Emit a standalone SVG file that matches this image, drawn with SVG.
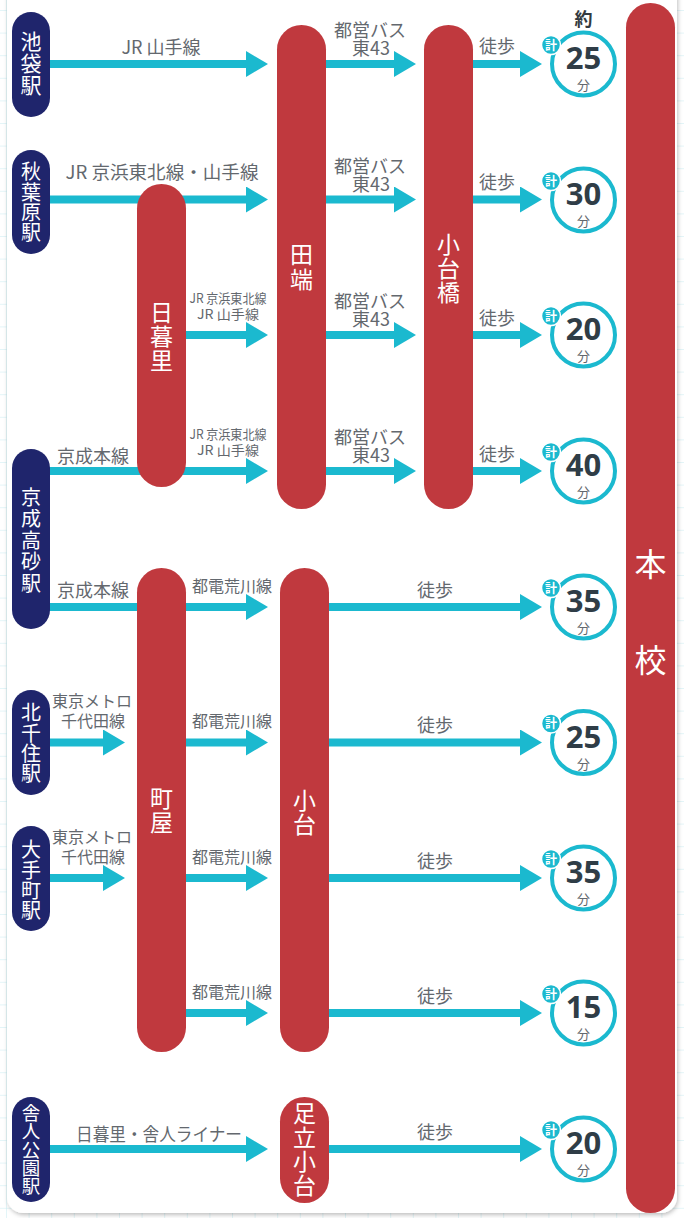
<svg xmlns="http://www.w3.org/2000/svg" width="684" height="1218" viewBox="0 0 684 1218">
<style>
.stn{fill:#1f256c}
.red{fill:#c0393e}
.st{fill:#ffffff;font-family:"Noto Sans CJK JP","Noto Sans",sans-serif;text-anchor:middle}
.v{writing-mode:vertical-rl}
.ln{stroke:#1bb9cf;stroke-width:8;fill:none}
.ah{stroke:#1bb9cf;stroke-width:8;fill:none;marker-end:url(#head)}
.lb{fill:#63686e;font-family:"Noto Sans CJK JP","Noto Sans",sans-serif;font-size:18px;text-anchor:middle}
.sm{fill:#63686e;font-family:"Noto Sans CJK JP","Noto Sans",sans-serif;font-size:13px;text-anchor:middle}
.md{fill:#63686e;font-family:"Noto Sans CJK JP","Noto Sans",sans-serif;font-size:16px;text-anchor:middle}
.ring{fill:#ffffff;stroke:#1bb9cf;stroke-width:4}
.badge{fill:#1bb9cf;stroke:#ffffff;stroke-width:1.5}
.bt{fill:#ffffff;font-family:"Noto Sans CJK JP",sans-serif;font-size:12px;font-weight:bold;text-anchor:middle}
.tt{text-anchor:middle}
.num{fill:#2f3d47;font-family:"Open Sans","Noto Sans",sans-serif;font-size:31px;font-weight:bold}
.fun{fill:#63686e;font-family:"Noto Sans CJK JP",sans-serif;font-size:13px;font-weight:normal}
</style>
<defs>
<pattern id="grid" x="6" y="10" width="22.6" height="22.6" patternUnits="userSpaceOnUse">
<path d="M0 0H22.6M0 0V22.6" stroke="#c8ebf1" stroke-width="1" fill="none"/>
</pattern>
<filter id="sh" x="-5%" y="-5%" width="110%" height="110%">
<feDropShadow dx="1" dy="2" stdDeviation="2" flood-color="#000" flood-opacity="0.25"/>
</filter>
<marker id="head" markerUnits="userSpaceOnUse" viewBox="0 -13 22 26" refX="1" refY="0" markerWidth="22" markerHeight="26" orient="auto">
<path d="M0 -13L22 0L0 13Z" fill="#1bb9cf"/>
</marker>
</defs>
<rect width="684" height="1218" fill="#ffffff"/>
<rect width="684" height="1218" fill="url(#grid)"/>
<rect x="7" y="-20" width="670" height="1233" rx="16" fill="#ffffff" filter="url(#sh)"/>

<g id="connectors">
<line class="ah" x1="40" y1="64" x2="247" y2="64"/>
<line class="ah" x1="320" y1="64" x2="395" y2="64"/>
<line class="ah" x1="465" y1="64" x2="521" y2="64"/>
<line class="ah" x1="40" y1="199.5" x2="247" y2="199.5"/>
<line class="ah" x1="320" y1="199.5" x2="395" y2="199.5"/>
<line class="ah" x1="465" y1="199.5" x2="521" y2="199.5"/>
<line class="ah" x1="180" y1="335" x2="247" y2="335"/>
<line class="ah" x1="320" y1="335" x2="395" y2="335"/>
<line class="ah" x1="465" y1="335" x2="521" y2="335"/>
<line class="ah" x1="40" y1="471" x2="247" y2="471"/>
<line class="ah" x1="320" y1="471" x2="395" y2="471"/>
<line class="ah" x1="465" y1="471" x2="521" y2="471"/>
<line class="ln" x1="40" y1="607" x2="150" y2="607"/>
<line class="ah" x1="180" y1="607" x2="247" y2="607"/>
<line class="ah" x1="320" y1="607" x2="521" y2="607"/>
<line class="ah" x1="40" y1="742.5" x2="104" y2="742.5"/>
<line class="ah" x1="180" y1="742.5" x2="247" y2="742.5"/>
<line class="ah" x1="320" y1="742.5" x2="521" y2="742.5"/>
<line class="ah" x1="40" y1="878" x2="104" y2="878"/>
<line class="ah" x1="180" y1="878" x2="247" y2="878"/>
<line class="ah" x1="320" y1="878" x2="521" y2="878"/>
<line class="ah" x1="180" y1="1013" x2="247" y2="1013"/>
<line class="ah" x1="320" y1="1013" x2="521" y2="1013"/>
<line class="ah" x1="40" y1="1149" x2="247" y2="1149"/>
<line class="ah" x1="320" y1="1149" x2="521" y2="1149"/>

<text class="lb" x="161" y="54">JR 山手線</text>
<text class="lb"><tspan x="370" y="37">都営バス</tspan><tspan x="371" y="55">東43</tspan></text>
<text class="lb" x="497" y="53">徒歩</text>
<text class="lb" x="162" y="179" textLength="193" lengthAdjust="spacingAndGlyphs">JR 京浜東北線・山手線</text>
<text class="lb"><tspan x="370" y="172.5">都営バス</tspan><tspan x="371" y="190.5">東43</tspan></text>
<text class="lb" x="497" y="189">徒歩</text>
<text class="sm"><tspan x="228" y="303" textLength="77" lengthAdjust="spacingAndGlyphs">JR 京浜東北線</tspan><tspan x="228" y="319" textLength="62" lengthAdjust="spacingAndGlyphs">JR 山手線</tspan></text>
<text class="lb"><tspan x="370" y="308">都営バス</tspan><tspan x="371" y="326">東43</tspan></text>
<text class="lb" x="497" y="325">徒歩</text>
<text class="lb" x="93" y="463">京成本線</text>
<text class="sm"><tspan x="228" y="439" textLength="77" lengthAdjust="spacingAndGlyphs">JR 京浜東北線</tspan><tspan x="228" y="455" textLength="62" lengthAdjust="spacingAndGlyphs">JR 山手線</tspan></text>
<text class="lb"><tspan x="370" y="444">都営バス</tspan><tspan x="371" y="462">東43</tspan></text>
<text class="lb" x="497" y="461">徒歩</text>
<text class="lb" x="93" y="597">京成本線</text>
<text class="md" x="232" y="592">都電荒川線</text>
<text class="lb" x="435" y="597">徒歩</text>
<text class="md"><tspan x="92" y="707">東京メトロ</tspan><tspan x="93" y="727">千代田線</tspan></text>
<text class="md" x="232" y="727">都電荒川線</text>
<text class="lb" x="435" y="732">徒歩</text>
<text class="md"><tspan x="92" y="843">東京メトロ</tspan><tspan x="93" y="863">千代田線</tspan></text>
<text class="md" x="232" y="863">都電荒川線</text>
<text class="lb" x="435" y="868">徒歩</text>
<text class="md" x="232" y="998">都電荒川線</text>
<text class="lb" x="435" y="1003">徒歩</text>
<text class="lb" x="159" y="1141" textLength="166" lengthAdjust="spacingAndGlyphs">日暮里・舎人ライナー</text>
<text class="lb" x="435" y="1139">徒歩</text>
</g>

<g id="n-ikebukuro"><rect class="stn" x="12" y="12" width="38" height="105" rx="19"/>
<text class="st v" x="31" y="64" font-size="21" letter-spacing="1">池袋駅</text></g>
<g id="n-akihabara"><rect class="stn" x="12" y="150" width="38" height="104" rx="19"/>
<text class="st v" x="31" y="202.5" font-size="20" letter-spacing="0.4">秋葉原駅</text></g>
<g id="n-keiseitakasago"><rect class="stn" x="12" y="449" width="38" height="180" rx="19"/>
<text class="st v" x="31" y="541" font-size="20" letter-spacing="1.4">京成高砂駅</text></g>
<g id="n-kitasenju"><rect class="stn" x="12" y="690" width="38" height="105" rx="19"/>
<text class="st v" x="31" y="743.5" font-size="20" letter-spacing="0.4">北千住駅</text></g>
<g id="n-otemachi"><rect class="stn" x="12" y="826" width="38" height="105" rx="19"/>
<text class="st v" x="31" y="880.5" font-size="20" letter-spacing="0.4">大手町駅</text></g>
<g id="n-toneri"><rect class="stn" x="12" y="1097" width="38" height="105" rx="19"/>
<text class="st v" x="31" y="1149.5" font-size="18.5" letter-spacing="-0.1">舎人公園駅</text></g>

<g id="n-nippori"><rect class="red" x="137" y="184" width="49" height="303" rx="24.5"/>
<text class="st v" x="161.5" y="336.5" font-size="23" letter-spacing="1">日暮里</text></g>
<g id="n-tabata"><rect class="red" x="277" y="25" width="49" height="484" rx="24.5"/>
<text class="st v" x="301.5" y="267.5" font-size="23" letter-spacing="1.5">田端</text></g>
<g id="n-odaibashi"><rect class="red" x="424" y="25" width="49" height="484" rx="24.5"/>
<text class="st v" x="448.5" y="269" font-size="23" letter-spacing="1">小台橋</text></g>
<g id="n-machiya"><rect class="red" x="137" y="568" width="49" height="484" rx="24.5"/>
<text class="st v" x="161.5" y="811" font-size="23" letter-spacing="1.5">町屋</text></g>
<g id="n-odai"><rect class="red" x="280" y="568" width="49" height="484" rx="24.5"/>
<text class="st v" x="304.5" y="813" font-size="23" letter-spacing="1">小台</text></g>
<g id="n-adachiodai"><rect class="red" x="280" y="1097" width="49" height="106" rx="24.5"/>
<text class="st v" x="304.5" y="1149.5" font-size="23" letter-spacing="1">足立小台</text></g>
<g id="n-honkou"><rect class="red" x="626" y="3" width="49" height="1210" rx="24.5"/>
<text class="st" x="650.5" y="576" font-size="32">本</text><text class="st" x="650.5" y="672" font-size="32">校</text></g>

<text x="583.5" y="26" fill="#333a40" font-family="Noto Sans CJK JP,sans-serif" font-size="18" font-weight="bold" text-anchor="middle">約</text>

<g id="t1" transform="translate(583.5,64)"><circle class="ring" r="31.5"/><circle class="badge" cx="-32.5" cy="-19" r="9.5"/><text class="bt" x="-32.5" y="-14.5">計</text><text class="tt"><tspan class="num" x="0" y="5">25</tspan><tspan class="fun" x="0" y="26">分</tspan></text></g>
<g id="t2" transform="translate(583.5,200)"><circle class="ring" r="31.5"/><circle class="badge" cx="-32.5" cy="-19" r="9.5"/><text class="bt" x="-32.5" y="-14.5">計</text><text class="tt"><tspan class="num" x="0" y="5">30</tspan><tspan class="fun" x="0" y="26">分</tspan></text></g>
<g id="t3" transform="translate(583.5,335)"><circle class="ring" r="31.5"/><circle class="badge" cx="-32.5" cy="-19" r="9.5"/><text class="bt" x="-32.5" y="-14.5">計</text><text class="tt"><tspan class="num" x="0" y="5">20</tspan><tspan class="fun" x="0" y="26">分</tspan></text></g>
<g id="t4" transform="translate(583.5,471)"><circle class="ring" r="31.5"/><circle class="badge" cx="-32.5" cy="-19" r="9.5"/><text class="bt" x="-32.5" y="-14.5">計</text><text class="tt"><tspan class="num" x="0" y="5">40</tspan><tspan class="fun" x="0" y="26">分</tspan></text></g>
<g id="t5" transform="translate(583.5,607)"><circle class="ring" r="31.5"/><circle class="badge" cx="-32.5" cy="-19" r="9.5"/><text class="bt" x="-32.5" y="-14.5">計</text><text class="tt"><tspan class="num" x="0" y="5">35</tspan><tspan class="fun" x="0" y="26">分</tspan></text></g>
<g id="t6" transform="translate(583.5,742.5)"><circle class="ring" r="31.5"/><circle class="badge" cx="-32.5" cy="-19" r="9.5"/><text class="bt" x="-32.5" y="-14.5">計</text><text class="tt"><tspan class="num" x="0" y="5">25</tspan><tspan class="fun" x="0" y="26">分</tspan></text></g>
<g id="t7" transform="translate(583.5,878)"><circle class="ring" r="31.5"/><circle class="badge" cx="-32.5" cy="-19" r="9.5"/><text class="bt" x="-32.5" y="-14.5">計</text><text class="tt"><tspan class="num" x="0" y="5">35</tspan><tspan class="fun" x="0" y="26">分</tspan></text></g>
<g id="t8" transform="translate(583.5,1013)"><circle class="ring" r="31.5"/><circle class="badge" cx="-32.5" cy="-19" r="9.5"/><text class="bt" x="-32.5" y="-14.5">計</text><text class="tt"><tspan class="num" x="0" y="5">15</tspan><tspan class="fun" x="0" y="26">分</tspan></text></g>
<g id="t9" transform="translate(583.5,1149)"><circle class="ring" r="31.5"/><circle class="badge" cx="-32.5" cy="-19" r="9.5"/><text class="bt" x="-32.5" y="-14.5">計</text><text class="tt"><tspan class="num" x="0" y="5">20</tspan><tspan class="fun" x="0" y="26">分</tspan></text></g>
</svg>
